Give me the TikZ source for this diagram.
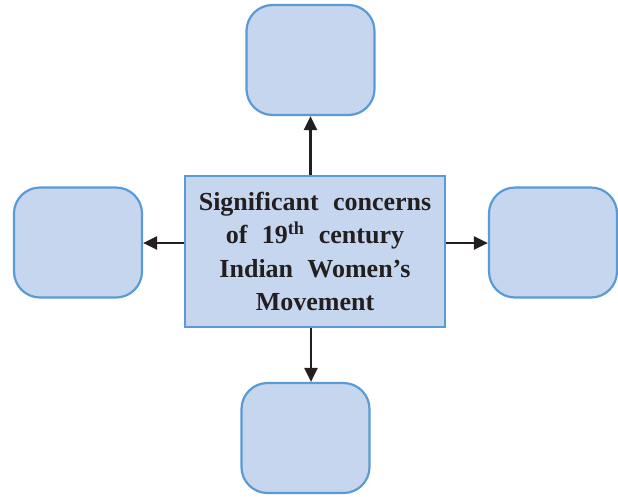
\documentclass[tikz,border=0pt]{standalone}
\usepackage{fontspec}
\setmainfont{Liberation Serif}
\definecolor{boxfill}{HTML}{C6D6EE}
\definecolor{boxline}{HTML}{5A9BD5}
\definecolor{arrowc}{HTML}{231F20}
\usetikzlibrary{arrows.meta}
\newcommand{\wsp}{\hspace{0.55em}}
\begin{document}
\begin{tikzpicture}[x=1pt,y=-1pt,
  outer/.style={draw=boxline,fill=boxfill,line width=2.2pt,rounded corners=26pt,minimum width=128pt,minimum height=110pt,inner sep=0pt},
  center/.style={draw=boxline,fill=boxfill,line width=2.2pt,minimum width=260pt,minimum height=151pt,inner sep=0pt,align=center,font=\bfseries\fontsize{26}{33.5}\selectfont,text=arrowc},
  conn/.style={draw=arrowc,line width=2.4pt,-{Triangle[length=14pt,width=13pt]}}]
\useasboundingbox (0,0) rectangle (618,496);
\node[center] (c) at (315,251.5) {Significant\wsp concerns\\of\wsp 19\textsuperscript{th}\wsp century\\Indian\wsp Women’s\\Movement};
\node[outer] (t) at (310.5,60) {};
\node[outer] (l) at (78,242.5) {};
\node[outer] (r) at (553,242.5) {};
\node[outer] (b) at (305.5,438) {};
\draw[conn] (c.north -| t.south) -- (t.south);
\draw[conn] (c.west |- 0,243) -- (l.east |- 0,243);
\draw[conn] (c.east |- 0,243) -- (r.west |- 0,243);
\draw[conn] (c.south -| 311,0) -- (b.north -| 311,0);
\end{tikzpicture}
\end{document}
